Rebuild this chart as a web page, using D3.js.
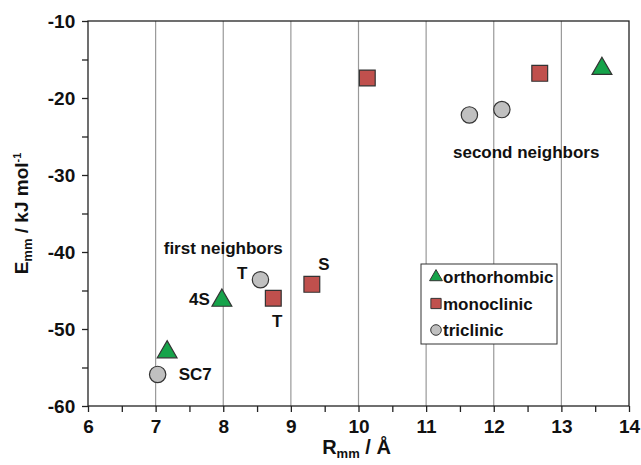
<!DOCTYPE html>
<html><head><meta charset="utf-8">
<script src="https://cdn.jsdelivr.net/npm/d3@7"></script>
<style>body{margin:0;background:#fff}svg{display:block}text{font-family:"Liberation Sans",Arial,sans-serif;font-weight:bold;fill:#111}</style>
</head><body><svg id="c" width="641" height="465"></svg>
<script>
const orthoR = [7.17, 7.98, 13.6];
const orthoE = [-53.0, -46.3, -16.2];
const monoR = [8.74, 9.31, 10.13, 12.68];
const monoE = [-46.0, -44.2, -17.4, -16.8];
const triR = [7.03, 8.55, 11.64, 12.12];
const triE = [-55.9, -43.6, -22.2, -21.5];
const xTicks = [6,7,8,9,10,11,12,13,14];
const yTicks = [-10,-20,-30,-40,-50,-60];
const seriesNames = ["orthorhombic","monoclinic","triclinic"];
const pointLabels = [
  {t:"SC7", r:7.03, e:-55.9, dx:21, dy:6, a:"start"},
  {t:"4S", r:7.98, e:-46.3, dx:-12, dy:4, a:"end"},
  {t:"T", r:8.55, e:-43.6, dx:-13, dy:-1, a:"end"},
  {t:"T", r:8.74, e:-46.0, dx:4, dy:29, a:"middle"},
  {t:"S", r:9.31, e:-44.2, dx:12, dy:-14, a:"middle"}
];
const groupLabels = [
  {t:"first neighbors", r:8.0, e:-40.3},
  {t:"second neighbors", r:12.48, e:-27.8}
];

const svg = d3.select("#c");
const m = {l:88, r:629, t:21, b:406};
const x = d3.scaleLinear().domain([6,14]).range([m.l, m.r]);
const y = d3.scaleLinear().domain([-60,-10]).range([m.b, m.t]);

// gridlines
svg.append("g").selectAll("line").data(xTicks.slice(1,-1)).join("line")
  .attr("x1", d=>x(d)).attr("x2", d=>x(d)).attr("y1", m.t).attr("y2", m.b)
  .attr("stroke","#999").attr("stroke-width",1.2);

// frame
svg.append("rect").attr("x",m.l).attr("y",m.t).attr("width",m.r-m.l).attr("height",m.b-m.t)
  .attr("fill","none").attr("stroke","#222").attr("stroke-width",1.3);

// x axis
const xa = svg.append("g").attr("transform",`translate(0,${m.b})`)
  .call(d3.axisBottom(x).tickValues(d3.range(6,14.01,0.5)).tickSize(6).tickFormat(d=>Number.isInteger(d)?d:""));
xa.select(".domain").remove();
xa.selectAll("line").attr("stroke","#222").attr("stroke-width",1.3);
xa.selectAll("text").attr("font-size",19).attr("dy","0.95em").attr("fill","#111");

const ya = svg.append("g").attr("transform",`translate(${m.l},0)`)
  .call(d3.axisLeft(y).tickValues(d3.range(-60,-9.99,5)).tickSize(6).tickFormat(d=>d%10===0?d:""));
ya.select(".domain").remove();
ya.selectAll("line").attr("stroke","#222").attr("stroke-width",1.3);
ya.selectAll("text").attr("font-size",19).attr("dx","-0.2em").attr("fill","#111");

// axis titles
const xt = svg.append("text").attr("x",(m.l+m.r)/2-2).attr("y",454).attr("text-anchor","middle").attr("font-size",20);
xt.append("tspan").text("R");
xt.append("tspan").text("mm").attr("font-size",13).attr("dy",4);
xt.append("tspan").text(" / Å").attr("dy",-4);

const yt = svg.append("text").attr("transform",`translate(28,${(m.t+m.b)/2}) rotate(-90)`).attr("text-anchor","middle").attr("font-size",19);
yt.append("tspan").text("E");
yt.append("tspan").text("mm").attr("font-size",13).attr("dy",4);
yt.append("tspan").text(" / kJ mol").attr("dy",-4);
yt.append("tspan").text("-1").attr("font-size",11).attr("dy",-7);

// markers
const colors = {orthorhombic:"#16a34a", monoclinic:"#c0504d", triclinic:"#c0c0c0"};
const symbols = {orthorhombic:d3.symbolTriangle, monoclinic:d3.symbolSquare, triclinic:d3.symbolCircle};
const sizes = {orthorhombic:170, monoclinic:250, triclinic:210};
const series = [
  {name:"orthorhombic", r:orthoR, e:orthoE},
  {name:"monoclinic", r:monoR, e:monoE},
  {name:"triclinic", r:triR, e:triE}
];
series.forEach(s=>{
  const pts = s.r.map((r,i)=>({r, e:s.e[i]}));
  svg.append("g").selectAll("path").data(pts).join("path")
    .attr("d", d3.symbol().type(symbols[s.name]).size(sizes[s.name]))
    .attr("transform", d=>`translate(${x(d.r)},${y(d.e)})`)
    .attr("fill", colors[s.name]).attr("stroke","#333").attr("stroke-width",1.2);
});

// labels
svg.append("g").selectAll("text").data(pointLabels).join("text")
  .attr("x", d=>x(d.r)+d.dx).attr("y", d=>y(d.e)+d.dy).attr("text-anchor", d=>d.a)
  .attr("font-size",17).text(d=>d.t);
svg.append("g").selectAll("text").data(groupLabels).join("text")
  .attr("x", d=>x(d.r)).attr("y", d=>y(d.e)).attr("text-anchor","middle")
  .attr("font-size",17).text(d=>d.t);

// legend
const lg = svg.append("g");
lg.append("rect").attr("x",421).attr("y",264).attr("width",136).attr("height",80)
  .attr("fill","#fff").attr("stroke","#333").attr("stroke-width",1);
seriesNames.forEach((n,i)=>{
  const cy = 277 + i*26.5;
  lg.append("path").attr("d", d3.symbol().type(symbols[n]).size(sizes[n]*0.42)())
    .attr("transform",`translate(436,${cy})`).attr("fill",colors[n]).attr("stroke","#333").attr("stroke-width",1);
  lg.append("text").attr("x",443).attr("y",cy+6).attr("font-size",17).text(n);
});
</script></body></html>
